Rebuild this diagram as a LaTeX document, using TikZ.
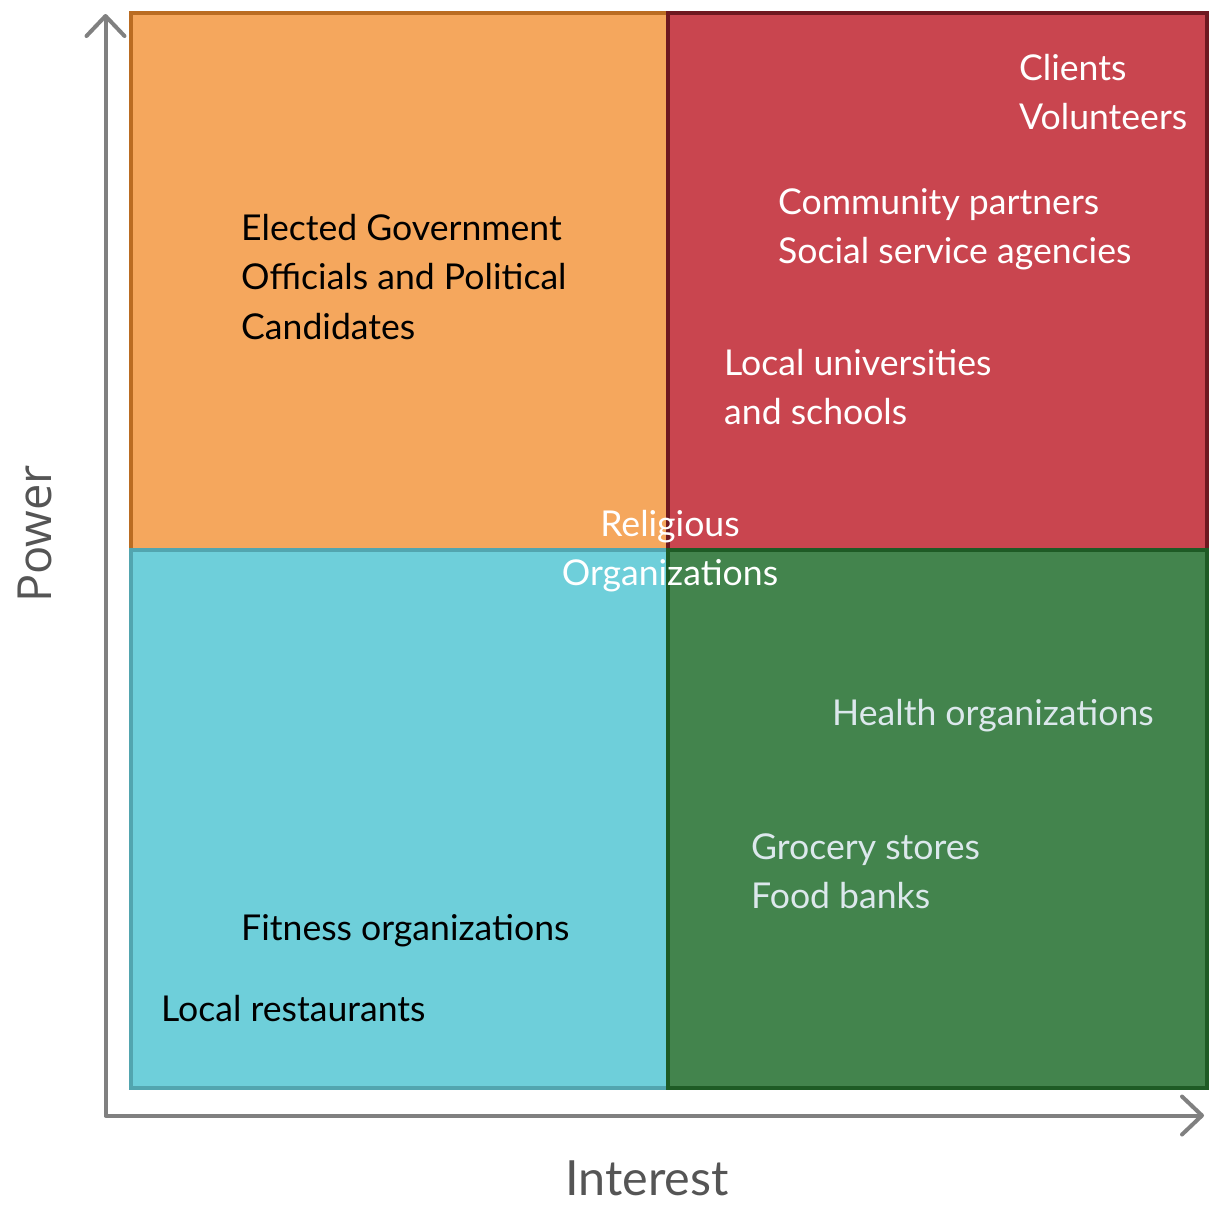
\documentclass[tikz,border=0pt]{standalone}
\usepackage{fontspec}
\setmainfont{Lato}
\newfontfamily\axisfont{Open Sans}
\usetikzlibrary{arrows.meta}

\definecolor{orfill}{HTML}{F5A75D}
\definecolor{orline}{HTML}{BA6C22}
\definecolor{rdfill}{HTML}{C9454F}
\definecolor{rdline}{HTML}{6E1820}
\definecolor{tlfill}{HTML}{6ECFDA}
\definecolor{tlline}{HTML}{52A5AF}
\definecolor{gnfill}{HTML}{43844D}
\definecolor{gnline}{HTML}{1E5B25}
\definecolor{axisgrey}{HTML}{808080}
\definecolor{titlegrey}{HTML}{555555}
\definecolor{paletext}{HTML}{DCE8EC}

\tikzset{chevron/.tip={Straight Barb[round, length=20pt, width=38pt]}}

\begin{document}
\begin{tikzpicture}[x=1pt,y=-1pt,
  quad/.style={line width=4.5pt},
  % multi-line labels: the base anchor sits on the last line
  lbl/.style={anchor=base west, align=left, inner sep=0pt,
    font=\fontsize{35.6}{49.5}\selectfont},
  axis/.style={line width=4pt, draw=axisgrey, line cap=round, line join=round}]
\useasboundingbox (0,0) rectangle (1209,1205);

% the four quadrants
\draw[quad, fill=orfill, draw=orline] (131,13) rectangle (668,550);
\draw[quad, fill=rdfill, draw=rdline] (668,13) rectangle (1207,550);
\draw[quad, fill=tlfill, draw=tlline] (131,550) rectangle (668,1088);
\draw[quad, fill=gnfill, draw=gnline] (668,550) rectangle (1207,1088);

% axes
\coordinate (ytip) at (105.5,14);
\coordinate (origin) at (105.5,1115.5);
\coordinate (xtip) at (1204,1115.5);
\draw[axis, chevron-chevron] (ytip) -- (origin) -- (xtip);

\node[font=\axisfont\fontsize{47}{50}\selectfont, text=titlegrey, rotate=90,
  inner sep=0pt] (power) at (35,534) {Power};
\node[font=\fontsize{48.5}{50}\selectfont, text=titlegrey, anchor=base,
  inner sep=0pt] (interest) at (647,1195) {Interest};

% stakeholders
\node[lbl] (elected) at (241,339)
  {Elected Government\\Officials and Political\\Candidates};
\node[lbl, text=white] (clients) at (1019,129.5) {Clients\\Volunteers};
\node[lbl, text=white] (community) at (778,263.5)
  {Community partners\\Social service agencies};
\node[lbl, text=white] (universities) at (724,424.5)
  {Local universities\\and schools};
\node[anchor=base, align=center, inner sep=0pt, text=white,
  font=\fontsize{35.6}{49.5}\selectfont] (religious) at (670,585.5)
  {Religious\\Organizations};
\node[lbl, text=paletext] (health) at (832,725) {Health organizations};
\node[lbl, text=paletext] (grocery) at (751,908.5) {Grocery stores\\Food banks};
\node[lbl] (fitness) at (241,940) {Fitness organizations};
\node[lbl] (restaurants) at (161,1021) {Local restaurants};
\end{tikzpicture}
\end{document}
